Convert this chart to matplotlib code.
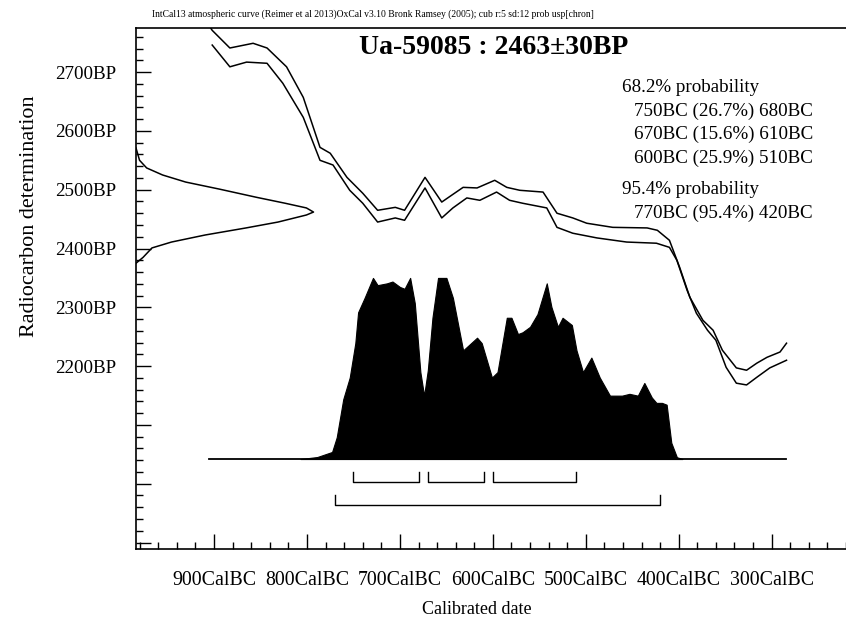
import matplotlib
matplotlib.use("Agg")
import matplotlib.pyplot as plt
from matplotlib.ticker import MultipleLocator, FuncFormatter

plt.rcParams['font.family'] = ['Liberation Serif', 'DejaVu Serif']

# calibration curve (IntCal13, +/- 1 sigma envelope), years BC and BP
curve_hi_bc = [910, 902, 883, 858, 843, 822, 804, 786, 775, 757, 740, 724, 705, 695,
               673, 655, 644, 632, 617, 598, 585, 571, 546, 531, 514, 499, 471, 434,
               423, 410, 399, 388, 374, 363, 353, 338, 327, 316, 305, 291, 284]
curve_hi_bp = [2790, 2771, 2741, 2749, 2741, 2709, 2657, 2572, 2562, 2521, 2494, 2465, 2470, 2465,
               2521, 2479, 2491, 2504, 2503, 2516, 2504, 2499, 2496, 2460, 2452, 2443, 2436, 2435,
               2431, 2414, 2368, 2317, 2278, 2261, 2227, 2197, 2193, 2205, 2215, 2224, 2239]
curve_lo_bc = [902, 883, 865, 843, 826, 804, 786, 772, 754, 740, 724, 705, 695, 673,
               655, 643, 628, 614, 596, 582, 568, 542, 531, 514, 488, 456, 424, 410,
               402, 391, 381, 369, 360, 349, 338, 327, 316, 302, 284]
curve_lo_bp = [2746, 2709, 2717, 2715, 2681, 2623, 2550, 2542, 2499, 2477, 2445, 2452, 2448, 2503,
               2452, 2469, 2486, 2482, 2496, 2482, 2477, 2469, 2436, 2426, 2418, 2411, 2409, 2402,
               2380, 2329, 2290, 2261, 2244, 2198, 2171, 2168, 2181, 2197, 2210]

# radiocarbon determination 2463 +/- 30 BP (relative density)
c14_bp = [2571, 2550, 2537, 2525, 2513, 2501, 2487, 2477, 2469, 2462,
          2457, 2445, 2435, 2423, 2411, 2401, 2385, 2375]
c14_p = [0, 0.02, 0.06, 0.15, 0.28, 0.47, 0.68, 0.84, 0.96, 1.0,
         0.96, 0.80, 0.62, 0.39, 0.20, 0.09, 0.04, 0]

# calibrated distribution (relative probability)
cal_bc = [807, 789, 773, 768, 761, 754, 748, 745, 738, 729, 724, 714, 708, 700, 695, 689,
          684, 678, 674, 670, 665, 659, 650, 643, 632, 617, 612, 601, 595, 585, 580, 573,
          568, 560, 552, 542, 537, 530, 525, 515, 510, 503, 494, 485, 474, 461, 453, 444,
          437, 429, 424, 418, 413, 408, 402, 396]
cal_p = [0, 0.011, 0.039, 0.12, 0.33, 0.45, 0.64, 0.81, 0.89, 1.0, 0.96, 0.97, 0.98, 0.95, 0.94, 1.0,
         0.86, 0.48, 0.35, 0.49, 0.78, 1.0, 1.0, 0.89, 0.60, 0.67, 0.64, 0.45, 0.48, 0.78, 0.78, 0.69,
         0.70, 0.73, 0.80, 0.97, 0.84, 0.73, 0.78, 0.74, 0.60, 0.48, 0.56, 0.45, 0.35, 0.35, 0.36, 0.35,
         0.42, 0.34, 0.31, 0.31, 0.30, 0.09, 0.01, 0]

# highest probability ranges (from, to) in BC
ranges_68 = [(750, 680), (670, 610), (600, 510)]
ranges_95 = [(770, 420)]

fig = plt.figure(figsize=(8.46, 6.26), dpi=100)
ax = fig.add_axes([136 / 846, 1 - 549 / 626, 1 - 136 / 846, (549 - 28) / 626])

x0, x1 = -984, -220
y0, y1 = 1889, 2775
ax.set_xlim(x0, x1)
ax.set_ylim(y0, y1)

lw = 1.1
ax.plot([-b for b in curve_hi_bc], curve_hi_bp, color='black', lw=lw)
ax.plot([-b for b in curve_lo_bc], curve_lo_bp, color='black', lw=lw)

# radiocarbon gaussian on the y axis
ax.plot([x0 + 191 * p for p in c14_p], c14_bp, color='black', lw=lw)

# calibrated distribution
base = 2042
scale = 308
ax.fill_between([-b for b in cal_bc], base, [base + scale * p for p in cal_p],
                color='black', lw=0.8)
ax.plot([-905, -285], [base, base], color='black', lw=1.3)

# range brackets
def bracket(r, y, h):
    for a, b in r:
        ax.plot([-a, -a, -b, -b], [y + h, y, y, y + h], color='black', lw=1.0)

bracket(ranges_68, 2003, 17)
bracket(ranges_95, 1964, 17)

# axes styling
ax.spines['right'].set_visible(False)
for s in ['left', 'bottom', 'top']:
    ax.spines[s].set_linewidth(1.2)

ax.xaxis.set_major_locator(MultipleLocator(100))
ax.xaxis.set_minor_locator(MultipleLocator(20))
ax.xaxis.set_major_formatter(FuncFormatter(lambda v, p: '%dCalBC' % -v))
ax.yaxis.set_major_locator(MultipleLocator(100))
ax.yaxis.set_minor_locator(MultipleLocator(20))
ax.yaxis.set_major_formatter(FuncFormatter(lambda v, p: '%dBP' % v if v >= 2200 else ''))
ax.tick_params(axis='both', which='major', direction='in', length=11, width=1.0)
ax.tick_params(axis='both', which='minor', direction='in', length=5, width=1.0)
ax.tick_params(axis='x', pad=15.5, labelsize=14.3)
ax.tick_params(axis='y', pad=14, labelsize=13.7)

fig.text(477 / 846, 1 - 610 / 626, 'Calibrated date', fontsize=13,
         ha='center', va='center')
fig.text(30 / 846, 1 - 216 / 626, 'Radiocarbon determination', fontsize=15.9,
         ha='center', va='center', rotation=90)

fig.text(152 / 846, 1 - 14 / 626,
         'IntCal13 atmospheric curve (Reimer et al 2013)OxCal v3.10 Bronk Ramsey (2005); cub r:5 sd:12 prob usp[chron]',
         fontsize=6.9, va='center', ha='left')
fig.text(494 / 846, 1 - 47 / 626, 'Ua-59085 : 2463\u00b130BP', fontsize=20,
         fontweight='bold', ha='center', va='center')

lines = [('68.2% probability', 622, 87),
         ('750BC (26.7%) 680BC', 634, 111),
         ('670BC (15.6%) 610BC', 634, 134),
         ('600BC (25.9%) 510BC', 634, 158),
         ('95.4% probability', 622, 189),
         ('770BC (95.4%) 420BC', 634, 213)]
for t, px, py in lines:
    fig.text(px / 846, 1 - py / 626, t, fontsize=13.7, ha='left', va='center')

fig.savefig('out.png', dpi=100)
